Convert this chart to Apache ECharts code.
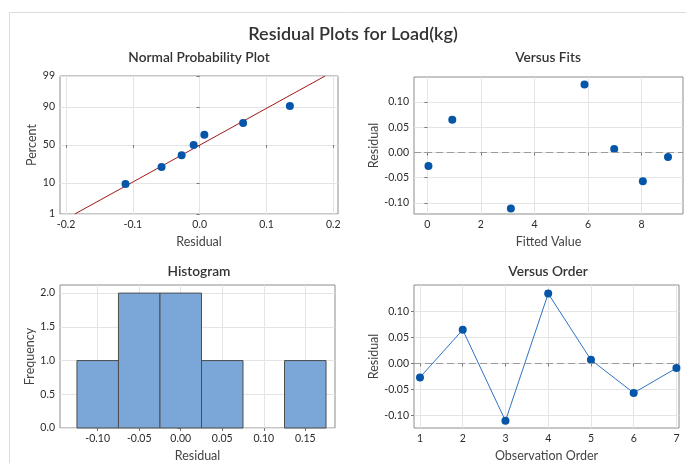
<!DOCTYPE html>
<html>
<head>
<meta charset="utf-8">
<script src="https://cdn.jsdelivr.net/npm/echarts@6/dist/echarts.min.js"></script>
<style>
html,body{margin:0;padding:0;background:#fff;}
#chart{width:686px;height:463px;}
</style>
</head>
<body>
<div id="chart"></div>
<script>
// ---- data ----
const observationOrder = [1, 2, 3, 4, 5, 6, 7];
const residuals = [-0.027, 0.065, -0.111, 0.135, 0.007, -0.057, -0.009];
const fittedValues = [0.04, 0.93, 3.12, 5.87, 6.98, 8.05, 8.99];
const nppPercent = [9.46, 22.97, 36.49, 50, 63.51, 77.03, 90.54];
const percentTicks = [1, 10, 50, 90, 99];
const histBinStart = [-0.125, -0.075, -0.025, 0.025, 0.075, 0.125];
const histBinEnd = [-0.075, -0.025, 0.025, 0.075, 0.125, 0.175];
const histCounts = [1, 2, 2, 1, 0, 1];
const nppXTicks = [-0.2, -0.1, 0.0, 0.1, 0.2];
const fitsXTicks = [0, 2, 4, 6, 8];
const residTicks = [-0.10, -0.05, 0.00, 0.05, 0.10];
const histXTicks = [-0.10, -0.05, 0.00, 0.05, 0.10, 0.15];
const freqTicks = [0.0, 0.5, 1.0, 1.5, 2.0];

// inverse standard normal (Acklam)
function normInv(p) {
  const a = [-3.969683028665376e+01, 2.209460984245205e+02, -2.759285104469687e+02, 1.383577518672690e+02, -3.066479806614716e+01, 2.506628277459239e+00];
  const b = [-5.447609879822406e+01, 1.615858368580409e+02, -1.556989798598866e+02, 6.680131188771972e+01, -1.328068155288572e+01];
  const c = [-7.784894002430293e-03, -3.223964580411365e-01, -2.400758277161838e+00, -2.549671010049793e+00, 4.374664141464968e+00, 2.938163982698783e+00];
  const d = [7.784695709041462e-03, 3.224671290700398e-01, 2.445134137142996e+00, 3.754408661907416e+00];
  const pl = 0.02425, ph = 1 - pl;
  let q, r;
  if (p < pl) { q = Math.sqrt(-2 * Math.log(p)); return (((((c[0]*q+c[1])*q+c[2])*q+c[3])*q+c[4])*q+c[5]) / ((((d[0]*q+d[1])*q+d[2])*q+d[3])*q+1); }
  if (p <= ph) { q = p - 0.5; r = q*q; return (((((a[0]*r+a[1])*r+a[2])*r+a[3])*r+a[4])*r+a[5])*q / (((((b[0]*r+b[1])*r+b[2])*r+b[3])*r+b[4])*r+1); }
  q = Math.sqrt(-2 * Math.log(1 - p)); return -(((((c[0]*q+c[1])*q+c[2])*q+c[3])*q+c[4])*q+c[5]) / ((((d[0]*q+d[1])*q+d[2])*q+d[3])*q+1);
}

const sortedRes = residuals.slice().sort((a, b) => a - b);
const zTicks = percentTicks.map(p => normInv(p / 100));
const nppData = sortedRes.map((r, i) => [r, normInv(nppPercent[i] / 100)]);
const mean = residuals.reduce((s, v) => s + v, 0) / residuals.length;
const sd = Math.sqrt(residuals.reduce((s, v) => s + (v - mean) * (v - mean), 0) / (residuals.length - 1));
const zMin = zTicks[0], zMax = zTicks[zTicks.length - 1];
const fitLine = [[mean + zMin * sd, zMin], [mean + zMax * sd, zMax]];
const fitsData = fittedValues.map((f, i) => [f, residuals[i]]);
const orderData = observationOrder.map((o, i) => [o, residuals[i]]);
const histData = histCounts.map((c, i) => [histBinStart[i], histBinEnd[i], c]);

const FONT = 'Lato';
const gridLine = { show: true, lineStyle: { color: '#e4e4e4', width: 1 } };
const tickStyle = (vals) => ({ show: true, length: 3, customValues: vals, lineStyle: { color: '#777' } });
const lblStyle = (vals, fmt) => ({ customValues: vals, formatter: fmt, color: '#2b2b2b', fontSize: 10.5, fontFamily: FONT, margin: 5 });
const nameStyle = { color: '#444', fontSize: 12.5, fontFamily: FONT };
const axisLineStyle = { show: false };

function xAxis(gi, min, max, ticks, fmt, name, gap) {
  return { type: 'value', gridIndex: gi, min, max, name, nameLocation: 'middle', nameGap: gap, nameTextStyle: nameStyle,
    axisLine: axisLineStyle, axisTick: tickStyle(ticks), axisLabel: lblStyle(ticks, fmt), splitLine: gridLine };
}
function yAxis(gi, min, max, ticks, fmt, name, gap) {
  return { type: 'value', gridIndex: gi, min, max, name, nameLocation: 'middle', nameGap: gap, nameTextStyle: nameStyle,
    axisLine: axisLineStyle, axisTick: tickStyle(ticks), axisLabel: lblStyle(ticks, fmt), splitLine: gridLine };
}
const f1 = v => v.toFixed(1), f2 = v => v.toFixed(2), f0 = v => String(Math.round(v));
const pctFmt = v => { let best = 0; zTicks.forEach((z, i) => { if (Math.abs(z - v) < Math.abs(zTicks[best] - v)) best = i; }); return String(percentTicks[best]); };

const dotColor = '#0556A8';
const subTitle = (text, x, y) => ({ text, left: x, top: y, textAlign: 'center', padding: 0,
  textStyle: { color: '#333', fontSize: 13.7, fontWeight: 600, fontFamily: FONT } });

const option = {
  animation: false,
  backgroundColor: '#fff',
  title: [
    { text: 'Residual Plots for Load(kg)', left: 353, top: 25, textAlign: 'center', padding: 0,
      textStyle: { color: '#333', fontSize: 18, fontWeight: 600, fontFamily: FONT } },
    subTitle('Normal Probability Plot', 199, 51),
    subTitle('Versus Fits', 548, 51),
    subTitle('Histogram', 199, 265),
    subTitle('Versus Order', 548, 265)
  ],
  graphic: [
    { type: 'polyline', shape: { points: [[9.5, 463], [9.5, 12.5], [686, 12.5]] }, style: { stroke: '#dcdcdc', lineWidth: 1, fill: null }, silent: true }
  ],
  grid: [
    { left: 60, top: 76, width: 278, height: 138, show: true, borderColor: '#8c8c8c', borderWidth: 1 },
    { left: 414, top: 77, width: 269, height: 137, show: true, borderColor: '#8c8c8c', borderWidth: 1 },
    { left: 60, top: 285, width: 275, height: 144, show: true, borderColor: '#8c8c8c', borderWidth: 1 },
    { left: 414, top: 285, width: 265, height: 144, show: true, borderColor: '#8c8c8c', borderWidth: 1 }
  ],
  xAxis: [
    xAxis(0, -0.209, 0.207, nppXTicks, f1, 'Residual', 21),
    xAxis(1, -0.5, 9.55, fitsXTicks, f0, 'Fitted Value', 21),
    xAxis(2, -0.1454, 0.1858, histXTicks, f2, 'Residual', 21),
    xAxis(3, 0.86, 7.06, observationOrder, f0, 'Observation Order', 21)
  ],
  yAxis: [
    yAxis(0, zMin, zMax, zTicks, pctFmt, 'Percent', 22),
    yAxis(1, -0.122, 0.1497, residTicks, f2, 'Residual', 33),
    yAxis(2, 0, 2.12, freqTicks, f1, 'Frequency', 22),
    yAxis(3, -0.1248, 0.1516, residTicks, f2, 'Residual', 29)
  ],
  series: [
    { type: 'line', xAxisIndex: 0, yAxisIndex: 0, data: fitLine, symbol: 'none', lineStyle: { color: '#A01818', width: 1 }, silent: true, z: 2 },
    { type: 'scatter', xAxisIndex: 0, yAxisIndex: 0, data: nppData, symbolSize: 8, itemStyle: { color: dotColor, opacity: 1 }, z: 3 },
    { type: 'scatter', xAxisIndex: 1, yAxisIndex: 1, data: fitsData, symbolSize: 8, itemStyle: { color: dotColor, opacity: 1 }, z: 3,
      markLine: { silent: true, symbol: 'none', label: { show: false }, lineStyle: { color: '#9a9a9a', type: [7, 4], width: 1 }, data: [{ yAxis: 0 }] } },
    { type: 'custom', xAxisIndex: 2, yAxisIndex: 2, data: histData,
      encode: { x: [0, 1], y: 2 },
      renderItem: function (params, api) {
        if (api.value(2) <= 0) return null;
        const p0 = api.coord([api.value(0), api.value(2)]);
        const p1 = api.coord([api.value(1), 0]);
        return { type: 'rect', shape: { x: p0[0], y: p0[1], width: p1[0] - p0[0], height: p1[1] - p0[1] },
          style: { fill: '#7BA6D8', stroke: '#4d4d4d', lineWidth: 1 } };
      } },
    { type: 'line', xAxisIndex: 3, yAxisIndex: 3, data: orderData, symbol: 'circle', symbolSize: 8,
      itemStyle: { color: dotColor, opacity: 1 }, lineStyle: { color: '#2E73C4', width: 1 }, z: 3,
      markLine: { silent: true, symbol: 'none', label: { show: false }, lineStyle: { color: '#9a9a9a', type: [7, 4], width: 1 }, data: [{ yAxis: 0 }] } }
  ]
};
const chart = echarts.init(document.getElementById('chart'), null, { renderer: 'canvas' });
chart.setOption(option);
</script>
</body>
</html>
